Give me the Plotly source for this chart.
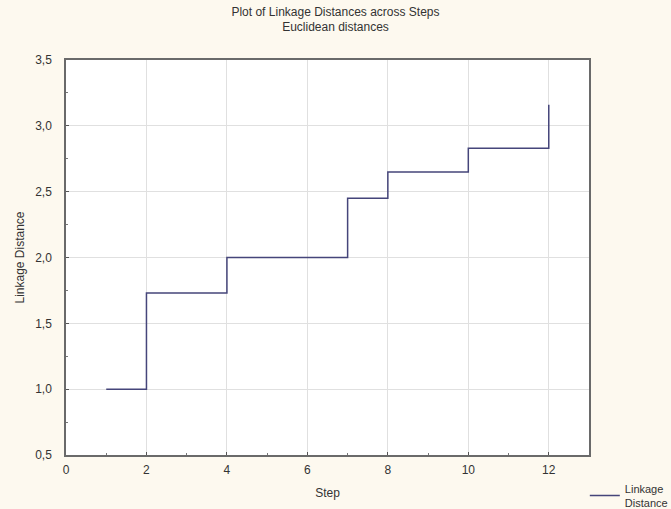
import plotly.graph_objects as go

steps = [1, 2, 3, 4, 5, 6, 7, 8, 9, 10, 11, 12]
linkage_distance = [1.0, 1.73, 1.73, 2.0, 2.0, 2.0, 2.45, 2.65, 2.65, 2.83, 2.83, 3.16]
x_ticks = [0, 2, 4, 6, 8, 10, 12]
y_ticks = [0.5, 1.0, 1.5, 2.0, 2.5, 3.0, 3.5]
y_tick_labels = ["0,5", "1,0", "1,5", "2,0", "2,5", "3,0", "3,5"]

FONT = "Liberation Sans, Arial"

fig = go.Figure()
fig.add_trace(go.Scatter(
    x=steps, y=linkage_distance, mode="lines", line_shape="hv",
    line=dict(color="#45457a", width=1.5),
    name="Linkage<br>Distance",
))

axis_common = dict(
    showline=True, linecolor="#6a6a6a", linewidth=1.5, mirror=True,
    showgrid=True, gridcolor="#e0e0e0", gridwidth=1,
    ticks="inside", ticklen=3, tickcolor="#555", zeroline=False,
    automargin=False,
    tickfont=dict(family=FONT, size=12, color="#333"),
)

fig.update_layout(
    width=671, height=509,
    paper_bgcolor="#fdf9ef", plot_bgcolor="#ffffff",
    margin=dict(l=66, r=82, t=60, b=54, autoexpand=False),
    title=dict(
        text="Plot of Linkage Distances across Steps<br>Euclidean distances",
        x=0.5, xanchor="center", y=0.969, yanchor="top",
        yref="container",
        font=dict(family=FONT, size=12, color="#333"),
    ),
    font=dict(family=FONT, size=12, color="#333"),
    showlegend=True,
    legend=dict(
        x=0.992, xanchor="left", y=-0.05, yanchor="top",
        bgcolor="rgba(0,0,0,0)", tracegroupgap=0,
        font=dict(family=FONT, size=11, color="#333"),
    ),
)
fig.update_xaxes(
    range=[0, 13], tickvals=x_ticks, ticklabelstandoff=3,
    minor=dict(ticks="inside", ticklen=2, dtick=1, tick0=0, showgrid=False, tickcolor="#777"),
    title=dict(text="Step", standoff=12, font=dict(size=12)),
    **axis_common,
)
fig.update_yaxes(
    range=[0.5, 3.5], tickvals=y_ticks, ticktext=y_tick_labels, ticklabelstandoff=10,
    minor=dict(ticks="inside", ticklen=2, dtick=0.25, tick0=0.5, showgrid=False, tickcolor="#777"),
    title=dict(text="Linkage Distance", standoff=8, font=dict(size=12)),
    **axis_common,
)

fig.write_html(
    "out.html",
    config={"displayModeBar": False},
    post_script="document.body.style.margin='0px';document.body.style.overflow='hidden';",
)
